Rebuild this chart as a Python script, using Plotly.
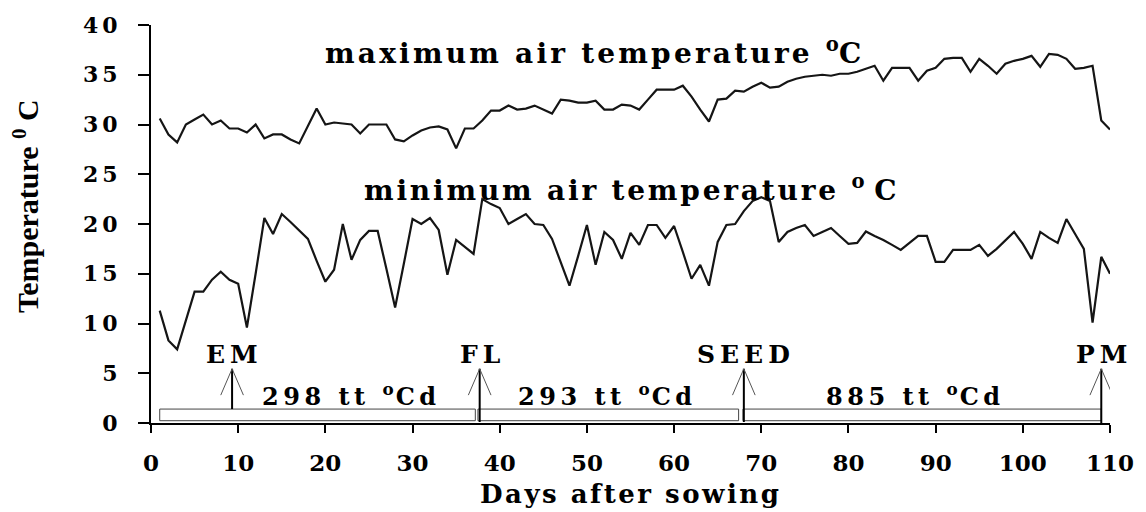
import plotly.graph_objects as go

# ---------------- data ----------------
days = list(range(1, 111))

max_temp = [30.6, 29.0, 28.2, 30.0, 30.5, 31.0, 30.0, 30.4, 29.6, 29.6,
            29.2, 30.0, 28.6, 29.0, 29.0, 28.5, 28.1, 29.8, 31.6, 30.0,
            30.2, 30.1, 30.0, 29.1, 30.0, 30.0, 30.0, 28.5, 28.3, 28.9,
            29.4, 29.7, 29.8, 29.5, 27.6, 29.6, 29.6, 30.4, 31.4, 31.4,
            31.9, 31.5, 31.6, 31.9, 31.5, 31.1, 32.5, 32.4, 32.2, 32.2,
            32.4, 31.5, 31.5, 32.0, 31.9, 31.5, 32.5, 33.5, 33.5, 33.5,
            33.9, 32.8, 31.5, 30.3, 32.5, 32.6, 33.4, 33.3, 33.8, 34.2,
            33.7, 33.8, 34.3, 34.6, 34.8, 34.9, 35.0, 34.9, 35.1, 35.1,
            35.3, 35.6, 35.9, 34.4, 35.7, 35.7, 35.7, 34.4, 35.4, 35.7,
            36.6, 36.7, 36.7, 35.3, 36.6, 35.9, 35.1, 36.1, 36.4, 36.6,
            36.9, 35.8, 37.1, 37.0, 36.6, 35.6, 35.7, 35.9, 30.4, 29.5]

min_temp = [11.3, 8.3, 7.4, 10.2, 13.2, 13.2, 14.4, 15.2, 14.4, 14.0,
            9.6, 15.0, 20.6, 19.0, 21.0, 20.2, 19.3, 18.5, 16.3, 14.2,
            15.4, 20.0, 16.4, 18.4, 19.3, 19.3, 15.5, 11.6, 16.0, 20.5,
            20.0, 20.6, 19.4, 14.9, 18.4, 17.7, 17.0, 22.5, 22.0, 21.6,
            20.0, 20.5, 21.0, 20.0, 19.9, 18.5, 16.2, 13.8, 16.8, 19.9,
            15.9, 19.2, 18.4, 16.5, 19.1, 17.9, 19.9, 19.9, 18.6, 19.8,
            17.2, 14.5, 15.9, 13.8, 18.2, 19.9, 20.0, 21.3, 22.3, 22.7,
            22.3, 18.2, 19.2, 19.6, 19.9, 18.8, 19.2, 19.6, 18.8, 18.0,
            18.1, 19.25, 18.8, 18.4, 17.9, 17.4, 18.1, 18.8, 18.8, 16.2,
            16.2, 17.4, 17.4, 17.4, 17.9, 16.8, 17.5, 18.4, 19.2, 18.0,
            16.5, 19.2, 18.6, 18.1, 20.5, 19.0, 17.5, 10.1, 16.7, 15.0]

stage_names = ["EM", "FL", "SEED", "PM"]
stage_days = [9.3, 37.7, 68.0, 109.0]

phase_labels = ["298 tt", "293 tt", "885 tt"]
phase_start = [1.0, 37.5, 67.9]
phase_end = [37.2, 67.4, 109.0]
phase_label_x = [22.8, 52.1, 87.5]

x_ticks = list(range(0, 111, 10))
y_ticks = list(range(0, 41, 5))

# ---------------- helpers ----------------
SERIF_BOLD = dict(family="DejaVu Serif", color="black", weight="bold")


def ls(text, px):
    return f'<span style="letter-spacing:{px}px">{text}</span>'


fig = go.Figure()

fig.add_trace(go.Scatter(x=days, y=max_temp, mode="lines",
                         line=dict(color="#151515", width=2.2), showlegend=False,
                         hoverinfo="skip"))
fig.add_trace(go.Scatter(x=days, y=min_temp, mode="lines",
                         line=dict(color="#151515", width=2.2), showlegend=False,
                         hoverinfo="skip"))

# phase bars
BAR_BOTTOM, BAR_TOP = 0.23, 1.4
for x0, x1 in zip(phase_start, phase_end):
    fig.add_shape(type="rect", xref="x", yref="y", x0=x0, x1=x1,
                  y0=BAR_BOTTOM, y1=BAR_TOP,
                  line=dict(color="#444", width=1), fillcolor="white", layer="above")

# stage arrows
ARROW_TIP = 5.45
WING_Y = 2.8
WING_DX = 1.3
shaft_bottom = [BAR_TOP, 0.1, 0.1, 0.0]
for d, yb in zip(stage_days, shaft_bottom):
    fig.add_shape(type="line", xref="x", yref="y", x0=d, x1=d, y0=yb, y1=ARROW_TIP,
                  line=dict(color="black", width=2), layer="above")
    for s in (-1, 1):
        fig.add_shape(type="line", xref="x", yref="y", x0=d + s * WING_DX, x1=d,
                      y0=WING_Y, y1=ARROW_TIP,
                      line=dict(color="#555", width=1), layer="above")

# stage labels
for name, d in zip(stage_names, stage_days):
    fig.add_annotation(x=d, y=6.9, xref="x", yref="y", text=ls(name, 5),
                       showarrow=False, xanchor="center", yanchor="middle",
                       xshift=2.5, font=dict(size=25, **SERIF_BOLD))

# phase labels
for lab, xc in zip(phase_labels, phase_label_x):
    txt = ls(lab + " ", 4.5) + "<sup>" + ls("o", 2) + "</sup>" + ls("Cd", 4.5)
    fig.add_annotation(x=xc, y=2.8, xref="x", yref="y", text=txt,
                       showarrow=False, xanchor="center", yanchor="middle",
                       xshift=2, font=dict(size=24, **SERIF_BOLD))

# series labels
fig.add_annotation(x=50.7, y=37.3, xref="x", yref="y",
                   text=ls("maximum air temperature ", 3.2) + "<sup>o</sup>C",
                   showarrow=False, xanchor="center", yanchor="middle",
                   font=dict(size=28, **SERIF_BOLD))
fig.add_annotation(x=55.0, y=23.6, xref="x", yref="y",
                   text=ls("minimum air temperature ", 2.8) + "<sup>o</sup> C",
                   showarrow=False, xanchor="center", yanchor="middle",
                   font=dict(size=28, **SERIF_BOLD))

# axis titles
fig.add_annotation(x=0.5, y=-0.179, xref="paper", yref="paper",
                   text=ls("Days after sowing", 2.5), showarrow=False,
                   xanchor="center", yanchor="middle",
                   font=dict(size=26, **SERIF_BOLD))
fig.add_annotation(x=-0.131, y=0.546, xref="paper", yref="paper",
                   text="Temperature <sup>0</sup> C", showarrow=False, textangle=-90,
                   xanchor="center", yanchor="middle",
                   font=dict(size=30, family="Liberation Serif", color="black", weight="bold"))

fig.update_layout(
    width=1146, height=512,
    margin=dict(l=151, r=36, t=20, b=89),
    paper_bgcolor="white", plot_bgcolor="white",
    xaxis=dict(range=[0, 110], tickvals=x_ticks,
               ticktext=[str(v) for v in x_ticks],
               showline=True, linecolor="black", linewidth=2,
               ticks="outside", ticklen=8, tickwidth=1.5, tickcolor="black",
               showgrid=False, zeroline=False, ticklabelstandoff=10,
               tickfont=dict(size=23, **SERIF_BOLD)),
    yaxis=dict(range=[0, 40], tickvals=y_ticks,
               ticktext=[ls(str(v), 4) for v in y_ticks],
               showline=True, linecolor="black", linewidth=2,
               ticks="outside", ticklen=11, tickwidth=1.5, tickcolor="black",
               showgrid=False, zeroline=False, ticklabelstandoff=12,
               tickfont=dict(size=22, **SERIF_BOLD)),
)

fig.write_html("out.html",
               config={"displayModeBar": False},
               post_script="document.body.style.margin='0px';"
                           "document.body.style.overflow='hidden';")
